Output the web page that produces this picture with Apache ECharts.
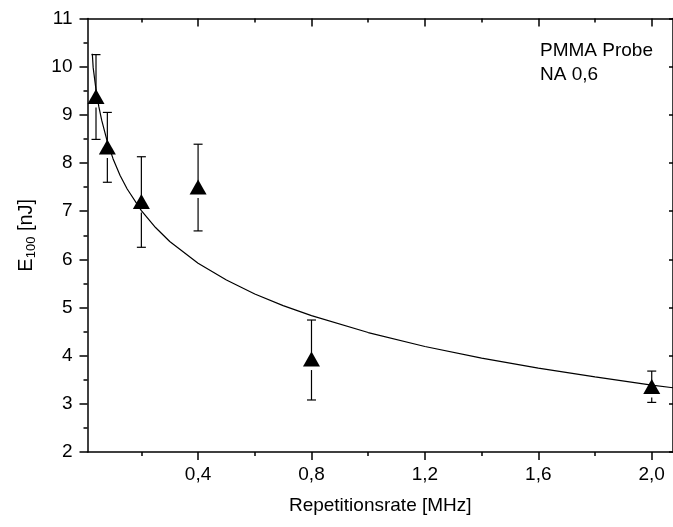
<!DOCTYPE html>
<html>
<head>
<meta charset="utf-8">
<script src="https://cdn.jsdelivr.net/npm/echarts@6/dist/echarts.min.js"></script>
<style>
html,body{margin:0;padding:0;background:#fff;}
#c{width:673px;height:527px;}
</style>
</head>
<body>
<div id="c"></div>
<script>
// measured points
const xVals   = [0.04, 0.08, 0.2, 0.4, 0.8, 2.0];
const yVals   = [9.38, 8.33, 7.20, 7.50, 3.93, 3.36];
const errLow  = [8.49, 7.60, 6.25, 6.59, 3.08, 3.03];
const errHigh = [10.25, 9.05, 8.13, 8.39, 4.74, 3.68];
// fit curve
const fitX = [0.027, 0.03, 0.04, 0.05, 0.06, 0.08, 0.10, 0.125, 0.15, 0.20, 0.25, 0.30, 0.40, 0.50, 0.60, 0.70, 0.80, 1.00, 1.20, 1.40, 1.60, 1.80, 2.00, 2.08];
const fitY = [10.27, 9.98, 9.52, 9.17, 8.89, 8.44, 8.09, 7.74, 7.46, 7.01, 6.66, 6.37, 5.92, 5.57, 5.28, 5.04, 4.83, 4.48, 4.19, 3.95, 3.74, 3.56, 3.39, 3.33];
// ticks
const xMajorTicks = [0.4, 0.8, 1.2, 1.6, 2.0];
const xMinorTicks = [0.2, 0.6, 1.0, 1.4, 1.8];
const xMin = 0.01, xMax = 2.075;
const yMin = 2, yMax = 11, yStep = 1;
const xTitle = 'Repetitionsrate [MHz]';
const noteLines = ['PMMA Probe', 'NA 0,6'];

const FONT = 'Liberation Sans, Arial, sans-serif';
const FS = 19;
const black = '#000';

const chart = echarts.init(document.getElementById('c'), null, {renderer: 'canvas'});

const baseX = {
  type: 'value', min: xMin, max: xMax, gridIndex: 0,
  splitLine: {show: false}
};

const option = {
  animation: false,
  backgroundColor: '#fff',
  grid: {left: 87.5, right: -1, top: 18.5, bottom: 75},
  xAxis: [
    Object.assign({}, baseX, {
      position: 'bottom',
      axisLine: {show: true, onZero: false, lineStyle: {color: black, width: 1.5}},
      axisTick: {show: true, inside: false, length: 8, customValues: xMajorTicks, lineStyle: {color: black, width: 1.5}},
      axisLabel: {show: true, customValues: xMajorTicks, margin: 13, color: black, fontFamily: FONT, fontSize: FS,
        formatter: v => v.toFixed(1).replace('.', ',')},
      name: xTitle, nameLocation: 'middle', nameGap: 44,
      nameTextStyle: {color: black, fontFamily: FONT, fontSize: FS}
    }),
    Object.assign({}, baseX, {
      position: 'bottom',
      axisLine: {show: false, onZero: false},
      axisTick: {show: true, inside: false, length: 4, customValues: xMinorTicks, lineStyle: {color: black, width: 1.5}},
      axisLabel: {show: false}
    }),
    Object.assign({}, baseX, {
      position: 'top',
      axisLine: {show: true, onZero: false, lineStyle: {color: black, width: 1.5}},
      axisTick: {show: true, inside: true, length: 8, customValues: xMajorTicks, lineStyle: {color: black, width: 1.5}},
      axisLabel: {show: false}
    }),
    Object.assign({}, baseX, {
      position: 'top',
      axisLine: {show: false, onZero: false},
      axisTick: {show: true, inside: true, length: 4, customValues: xMinorTicks, lineStyle: {color: black, width: 1.5}},
      axisLabel: {show: false}
    })
  ],
  yAxis: [
    {
      type: 'value', min: yMin, max: yMax, interval: yStep, position: 'left',
      splitLine: {show: false},
      axisLine: {show: true, onZero: false, lineStyle: {color: black, width: 1.5}},
      axisTick: {show: true, inside: false, length: 8, lineStyle: {color: black, width: 1.5}},
      minorTick: {show: true, splitNumber: 2, length: 4, lineStyle: {color: black, width: 1.5}},
      axisLabel: {color: black, fontFamily: FONT, fontSize: FS, margin: 15},
      name: '{n|E}{s|100}{n| [nJ]}', nameLocation: 'middle', nameGap: 50, nameRotate: 90,
      nameTextStyle: {
        color: black, fontFamily: FONT, fontSize: 20,
        rich: {
          n: {color: black, fontFamily: FONT, fontSize: 20},
          s: {color: black, fontFamily: FONT, fontSize: 13, verticalAlign: 'bottom', padding: [9, 0, 0, 0]}
        }
      }
    },
    {
      type: 'value', min: yMin, max: yMax, interval: yStep, position: 'right',
      splitLine: {show: false},
      axisLine: {show: true, onZero: false, lineStyle: {color: black, width: 1.5}},
      axisTick: {show: true, inside: true, length: 4, lineStyle: {color: black, width: 1.5}},
      axisLabel: {show: false}
    }
  ],
  series: [
    {
      type: 'line', xAxisIndex: 0, yAxisIndex: 0,
      data: fitX.map((x, i) => [x, fitY[i]]),
      showSymbol: false, symbol: 'none', smooth: false,
      lineStyle: {color: black, width: 1.2}, z: 3
    },
    {
      type: 'custom', xAxisIndex: 0, yAxisIndex: 0,
      data: xVals.map((x, i) => [x, yVals[i], errLow[i], errHigh[i]]),
      renderItem: function (params, api) {
        const x = api.value(0);
        const c = api.coord([x, api.value(1)]);
        const lo = api.coord([x, api.value(2)]);
        const hi = api.coord([x, api.value(3)]);
        const hw = 4.5;
        const st = {stroke: black, lineWidth: 1.2};
        return {
          type: 'group',
          children: [
            {type: 'line', shape: {x1: hi[0], y1: hi[1], x2: c[0], y2: c[1]}, style: st},
            {type: 'line', shape: {x1: c[0], y1: c[1] + 11, x2: lo[0], y2: lo[1]}, style: st},
            {type: 'line', shape: {x1: hi[0] - hw, y1: hi[1], x2: hi[0] + hw, y2: hi[1]}, style: st},
            {type: 'line', shape: {x1: lo[0] - hw, y1: lo[1], x2: lo[0] + hw, y2: lo[1]}, style: st}
          ]
        };
      },
      z: 4
    },
    {
      type: 'scatter', xAxisIndex: 0, yAxisIndex: 0,
      data: xVals.map((x, i) => [x, yVals[i]]),
      symbol: 'triangle', symbolSize: [17, 15],
      itemStyle: {color: black, opacity: 1},
      z: 5
    }
  ],
  graphic: [
    {type: 'text', left: 540, top: 39, style: {text: noteLines.join('\n'), fill: black, font: FS + 'px ' + FONT, lineHeight: 24}}
  ]
};
chart.setOption(option);
</script>
</body>
</html>
